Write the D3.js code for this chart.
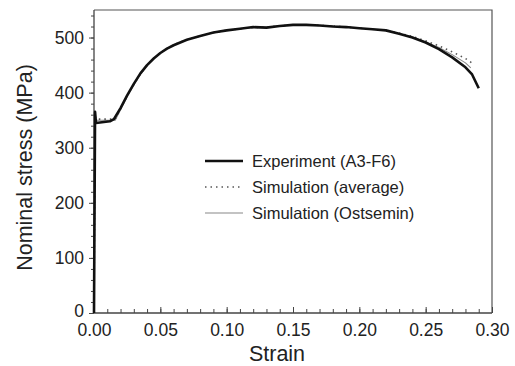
<!DOCTYPE html>
<html lang="en">
<head>
<meta charset="UTF-8">
<title>Nominal stress vs strain</title>
<script src="https://d3js.org/d3.v7.min.js"></script>
<style>
    body { margin: 0; background: #fff; }
    svg text { font-family: "Liberation Sans", Arial, sans-serif; fill: #222; }
</style>
</head>
<body>
<svg id="chart" width="515" height="366"></svg>
<script>
    // strain / nominal stress (MPa)
    const experiment = [[0,0],[0.0008,365],[0.0015,345],[0.012,348],[0.015,352],[0.02,372],[0.025,395],[0.03,416],
        [0.035,435],[0.04,450],[0.045,462],[0.05,472],[0.055,480],[0.06,486],[0.07,496],[0.08,503],[0.09,509],
        [0.10,513],[0.11,516],[0.12,519],[0.13,518],[0.14,521],[0.15,523],[0.16,523],[0.17,522],[0.18,520],
        [0.19,519],[0.20,517],[0.21,515],[0.22,513],[0.23,507],[0.24,500],[0.25,491],[0.26,479],[0.27,464],
        [0.28,446],[0.285,433],[0.29,408]];
    const simAverage = [[0,0],[0.0008,358],[0.0015,352],[0.016,352],[0.02,370],[0.025,394],[0.03,415],
        [0.035,434],[0.04,450],[0.045,462],[0.05,472],[0.055,480],[0.06,487],[0.07,496],[0.08,503],[0.09,509],
        [0.10,513],[0.11,516],[0.12,518],[0.13,519],[0.14,521],[0.15,523],[0.16,523],[0.17,522],[0.18,521],
        [0.19,519],[0.20,517],[0.21,515],[0.22,513],[0.23,508],[0.24,502],[0.25,494],[0.26,485],[0.27,474],
        [0.28,462],[0.286,452]];
    const simOstsemin = [[0,0],[0.0008,356],[0.0015,350],[0.016,350],[0.02,369],[0.025,393],[0.03,414],
        [0.035,434],[0.04,450],[0.045,462],[0.05,472],[0.055,480],[0.06,487],[0.07,496],[0.08,503],[0.09,509],
        [0.10,513],[0.11,516],[0.12,518],[0.13,519],[0.14,521],[0.15,523],[0.16,523],[0.17,522],[0.18,521],
        [0.19,519],[0.20,517],[0.21,515],[0.22,513],[0.23,507],[0.24,501],[0.25,492],[0.26,482],[0.27,469],
        [0.28,454],[0.284,445]];
    const xTicks = [0, 0.05, 0.10, 0.15, 0.20, 0.25, 0.30];
    const yTicks = [0, 100, 200, 300, 400, 500];
    const legendNames = ['Experiment (A3-F6)', 'Simulation (average)', 'Simulation (Ostsemin)'];

    const svg = d3.select('#chart');
    const m = {l: 94, r: 23, t: 10, b: 53};
    const W = 515, H = 366;
    const x = d3.scaleLinear().domain([0, 0.30]).range([m.l, W - m.r]);
    const y = d3.scaleLinear().domain([0, 550]).range([H - m.b, m.t]);

    const axisCol = '#444';

    // frame (top + right)
    svg.append('path')
        .attr('d', `M${x(0)},${y(550)}H${x(0.30)}V${y(0)}`)
        .attr('fill', 'none').attr('stroke', '#555').attr('stroke-width', 1.2);

    // x axis: ticks pointing inward
    const gx = svg.append('g').attr('transform', `translate(0,${y(0)})`);
    gx.call(d3.axisBottom(x).tickValues(d3.range(0, 0.3001, 0.01)).tickSize(-4).tickFormat(''))
        .call(g => g.select('.domain').remove())
        .selectAll('line').attr('stroke', axisCol);
    gx.append('g').call(d3.axisBottom(x).tickValues(xTicks).tickSize(-6).tickPadding(11).tickFormat(d3.format('.2f')))
        .call(g => g.select('.domain').remove())
        .call(g => g.selectAll('line').attr('stroke', axisCol))
        .call(g => g.selectAll('text').attr('font-size', 17.5).attr('fill', '#222'));
    gx.append('line').attr('x1', x(0)).attr('x2', x(0.30)).attr('stroke', axisCol).attr('stroke-width', 1.3);

    // y axis: ticks pointing outward
    const gy = svg.append('g').attr('transform', `translate(${x(0)},0)`);
    gy.call(d3.axisLeft(y).tickValues(d3.range(0, 551, 20)).tickSize(3).tickFormat(''))
        .call(g => g.select('.domain').remove())
        .selectAll('line').attr('stroke', axisCol);
    gy.append('g').call(d3.axisLeft(y).tickValues(yTicks).tickSize(5).tickPadding(5))
        .call(g => g.select('.domain').remove())
        .call(g => g.selectAll('line').attr('stroke', axisCol))
        .call(g => g.selectAll('text').attr('font-size', 17.5).attr('fill', '#222')
            .attr('dy', d => d === 0 ? '0.2em' : '0.32em'));
    gy.append('line').attr('y1', y(0)).attr('y2', y(550)).attr('stroke', axisCol).attr('stroke-width', 1.3);

    // axis titles
    svg.append('text').attr('x', 277).attr('y', 361).attr('text-anchor', 'middle')
        .attr('font-size', 21.5).text('Strain');
    svg.append('text').attr('transform', `translate(32,${(y(0) + y(550)) / 2 + 6}) rotate(-90)`)
        .attr('text-anchor', 'middle').attr('font-size', 21.5).text('Nominal stress (MPa)');

    // curves
    const line = d3.line().x(d => x(d[0])).y(d => y(d[1]));
    const styles = [
        {data: simOstsemin, stroke: '#888', w: 1.1, dash: null},
        {data: simAverage, stroke: '#555', w: 1.6, dash: '1.5,4'},
        {data: experiment, stroke: '#111', w: 2.6, dash: null}
    ];
    styles.forEach(s => {
        svg.append('path').datum(s.data).attr('d', line)
            .attr('fill', 'none').attr('stroke', s.stroke).attr('stroke-width', s.w)
            .attr('stroke-dasharray', s.dash).attr('stroke-linejoin', 'round');
    });

    // legend
    const legStyles = [styles[2], styles[1], styles[0]];
    const lg = svg.append('g');
    legendNames.forEach((name, i) => {
        const ly = 161 + i * 26;
        lg.append('line').attr('x1', 205).attr('x2', 243).attr('y1', ly).attr('y2', ly)
            .attr('stroke', legStyles[i].stroke).attr('stroke-width', legStyles[i].w)
            .attr('stroke-dasharray', legStyles[i].dash);
        lg.append('text').attr('x', 252).attr('y', ly + 6).attr('font-size', 16.5).text(name);
    });
</script>
</body>
</html>
